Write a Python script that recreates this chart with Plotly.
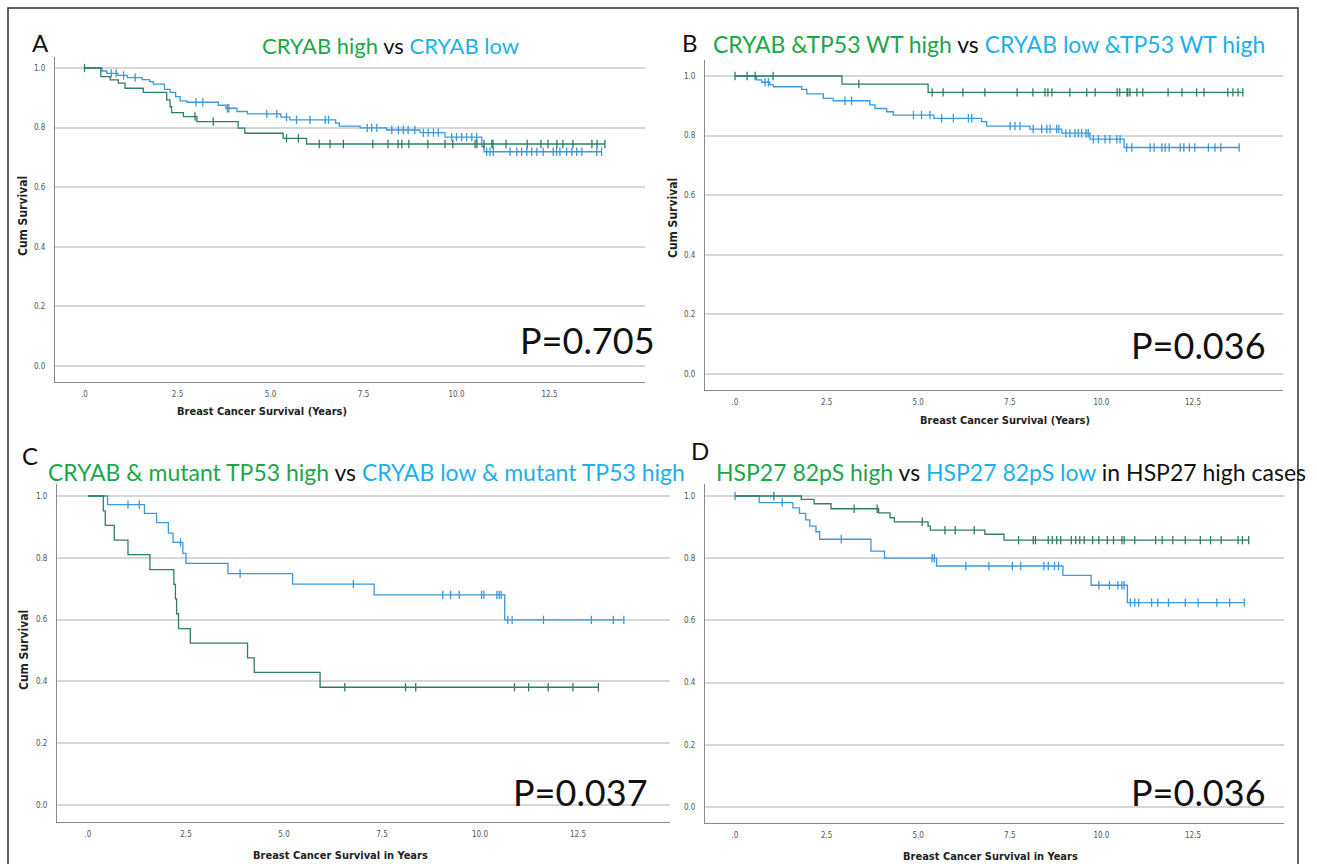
import numpy as np
import plotly.graph_objects as go

W, H = 1317, 864

# ---------------- data (years, cumulative survival) ----------------
# Panel A
A_high_t = [0.44, 0.69, 0.91, 1.09, 1.58, 2.21, 2.30, 2.34, 2.66, 3.02, 4.13, 4.31, 5.34, 5.97]
A_high_s = [0.971, 0.960, 0.949, 0.932, 0.918, 0.893, 0.870, 0.850, 0.837, 0.820, 0.798, 0.781, 0.764, 0.745]
A_high_c = [0.0, 2.97, 3.46, 5.43, 5.75, 6.31, 6.60, 6.96, 7.75, 8.16, 8.43, 8.53, 8.72, 9.23, 9.69,
            9.90, 10.50, 10.55, 10.74, 10.95, 10.98, 11.33, 11.90, 12.27, 12.46, 12.70, 12.86,
            13.13, 13.64, 13.78, 13.99]
A_low_t = [0.47, 0.60, 0.90, 1.15, 1.55, 1.75, 1.85, 2.15, 2.30, 2.45, 2.57, 2.75, 3.60, 3.80,
           4.10, 4.38, 5.28, 5.52, 6.75, 6.85, 7.41, 8.12, 9.02, 9.69, 10.68, 10.74]
A_low_s = [0.990, 0.982, 0.975, 0.968, 0.961, 0.954, 0.946, 0.928, 0.918, 0.904, 0.890, 0.885,
           0.875, 0.865, 0.854, 0.846, 0.835, 0.826, 0.815, 0.805, 0.799, 0.792, 0.783, 0.768,
           0.736, 0.719]
A_low_c = [0.72, 0.85, 1.05, 1.36, 3.00, 3.18, 3.84, 3.88, 4.90, 5.17, 5.43, 5.70, 6.06, 6.47,
           6.56, 7.60, 7.72, 7.86, 8.26, 8.44, 8.57, 8.70, 8.88, 9.11, 9.24, 9.38, 9.51, 9.87,
           10.00, 10.14, 10.27, 10.41, 10.54, 10.81, 10.90, 10.99, 11.44, 11.62, 11.75, 11.89,
           12.02, 12.16, 12.33, 12.60, 12.69, 12.78, 12.96, 13.10, 13.23, 13.37, 13.77, 13.90]

# Panel B
B_high_t = [2.92, 5.27]
B_high_s = [0.973, 0.945]
B_high_c = [0.0, 0.33, 0.55, 1.04, 3.38, 5.38, 5.68, 6.22, 6.82, 7.70, 8.13, 8.46, 8.54, 8.65,
            9.14, 9.60, 9.83, 10.43, 10.50, 10.70, 10.72, 10.78, 10.97, 11.13, 11.82, 12.20,
            12.60, 12.80, 13.45, 13.59, 13.73, 13.86]
B_low_t = [0.59, 0.73, 0.95, 1.05, 1.82, 1.96, 2.41, 2.68, 3.68, 3.82, 4.14, 4.32, 5.43, 6.73,
           6.87, 8.05, 8.92, 9.69, 10.62]
B_low_s = [0.987, 0.979, 0.970, 0.964, 0.955, 0.940, 0.925, 0.917, 0.903, 0.891, 0.880, 0.869,
           0.858, 0.847, 0.832, 0.822, 0.808, 0.788, 0.760]
B_low_c = [0.82, 0.91, 3.00, 3.18, 4.87, 5.09, 5.32, 5.64, 5.96, 6.37, 6.46, 7.51, 7.64, 7.78,
           8.14, 8.37, 8.51, 8.60, 8.78, 8.84, 9.03, 9.14, 9.28, 9.37, 9.46, 9.58, 9.64, 9.78,
           9.92, 10.10, 10.23, 10.42, 10.51, 10.69, 10.83, 11.33, 11.44, 11.65, 11.74, 11.85,
           12.15, 12.25, 12.40, 12.55, 12.92, 13.10, 13.26, 13.76]

# Panel C
C_high_t = [0.39, 0.44, 0.67, 1.02, 1.58, 2.19, 2.23, 2.26, 2.31, 2.61, 4.07, 4.24, 5.92]
C_high_s = [0.952, 0.905, 0.857, 0.810, 0.762, 0.714, 0.667, 0.619, 0.571, 0.524, 0.476, 0.429, 0.381]
C_high_c = [6.55, 8.10, 8.36, 10.88, 11.24, 11.74, 12.37, 13.02]
C_low_t = [0.50, 1.44, 1.75, 2.05, 2.17, 2.42, 2.50, 3.57, 5.22, 7.30, 10.63]
C_low_s = [0.972, 0.944, 0.914, 0.880, 0.850, 0.814, 0.782, 0.749, 0.715, 0.680, 0.599]
C_low_c = [1.02, 1.31, 2.36, 3.88, 6.77, 9.05, 9.25, 9.47, 10.04, 10.10, 10.43, 10.49, 10.54,
           10.71, 10.82, 11.62, 12.84, 13.40, 13.67]

# Panel D
D_high_t = [1.81, 2.16, 2.62, 3.92, 4.23, 4.35, 5.27, 5.33, 6.82, 7.34]
D_high_s = [0.989, 0.975, 0.959, 0.946, 0.930, 0.917, 0.903, 0.890, 0.877, 0.858]
D_high_c = [1.06, 3.25, 3.88, 5.11, 5.73, 6.01, 6.53, 7.74, 8.14, 8.20, 8.55, 8.66, 8.78, 8.89,
            9.18, 9.30, 9.41, 9.53, 9.76, 9.93, 10.16, 10.33, 10.56, 10.62, 10.91, 11.48, 11.66,
            11.95, 12.29, 12.70, 12.98, 13.27, 13.73, 13.85, 14.02]
D_low_t = [0.66, 1.58, 1.76, 1.93, 2.04, 2.21, 2.31, 3.71, 4.08, 5.50, 8.95, 9.72, 10.71]
D_low_s = [0.979, 0.962, 0.944, 0.923, 0.903, 0.885, 0.861, 0.823, 0.800, 0.775, 0.745, 0.713, 0.657]
D_low_c = [0.0, 1.29, 2.90, 5.38, 5.44, 6.30, 6.93, 7.57, 7.80, 8.43, 8.55, 8.72, 8.83, 9.93,
           10.22, 10.45, 10.56, 10.62, 10.79, 10.91, 11.02, 11.37, 11.54, 11.83, 12.29, 12.64,
           13.15, 13.50, 13.90]

y_tickvals = [0.0, 0.2, 0.4, 0.6, 0.8, 1.0]
y_ticktext = ["0.0", "0.2", "0.4", "0.6", "0.8", "1.0"]
x_tickvals = [0.0, 2.5, 5.0, 7.5, 10.0, 12.5]
x_ticktext = [".0", "2.5", "5.0", "7.5", "10.0", "12.5"]

titles = {
    "A": [("CRYAB high", "g"), (" vs ", "k"), ("CRYAB low", "b")],
    "B": [("CRYAB &TP53 WT high", "g"), (" vs ", "k"), ("CRYAB low &TP53 WT high", "b")],
    "C": [("CRYAB & mutant TP53 high", "g"), (" vs ", "k"), ("CRYAB low & mutant TP53 high", "b")],
    "D": [("HSP27 82pS high", "g"), (" vs ", "k"), ("HSP27 82pS low", "b"), (" in HSP27 high cases", "k")],
}
p_values = {"A": "P=0.705", "B": "P=0.036", "C": "P=0.037", "D": "P=0.036"}
x_titles = {"A": "Breast Cancer Survival (Years)", "B": "Breast Cancer Survival (Years)",
            "C": "Breast Cancer Survival in Years", "D": "Breast Cancer Survival in Years"}
y_title = "Cum Survival"

# ---------------- styling ----------------
GREEN_LINE = "#2f7d6a"
BLUE_LINE = "#3a98de"
GREEN_TXT = "#1ca64a"
BLUE_TXT = "#1cb0ea"
TXT_COL = {"g": GREEN_TXT, "b": BLUE_TXT, "k": "#111111"}
TITLE_FONT = "Lato, 'Open Sans', sans-serif"
SMALL_FONT = "'Liberation Sans Narrow', 'DejaVu Sans Condensed', 'Open Sans', sans-serif"


def px(x):
    return x / W


def py(y):
    return 1 - y / H


# panel geometry in pixels: (left, right, top, bottom), x0 pixel, px/year, y0 pixel(S=0), px/unit
panels = {
    "A": dict(box=(55, 645, 57, 382), x0=84.5, kx=37.2, y0=366, ky=298),
    "B": dict(box=(705, 1283, 60, 390), x0=735, kx=36.64, y0=374, ky=298),
    "C": dict(box=(57, 670, 484, 822), x0=88, kx=39.2, y0=805, ky=309),
    "D": dict(box=(705, 1284, 484, 823), x0=735, kx=36.64, y0=807, ky=311),
}

series = {
    "A": [(A_low_t, A_low_s, A_low_c, BLUE_LINE), (A_high_t, A_high_s, A_high_c, GREEN_LINE)],
    "B": [(B_low_t, B_low_s, B_low_c, BLUE_LINE), (B_high_t, B_high_s, B_high_c, GREEN_LINE)],
    "C": [(C_low_t, C_low_s, C_low_c, BLUE_LINE), (C_high_t, C_high_s, C_high_c, GREEN_LINE)],
    "D": [(D_low_t, D_low_s, D_low_c, BLUE_LINE), (D_high_t, D_high_s, D_high_c, GREEN_LINE)],
}


def km_xy(t, s, c):
    end = max(max(t), max(c))
    return [0.0] + list(t) + [end], [1.0] + list(s) + [s[-1]]


def cens_y(t, s, c):
    t = np.asarray(t)
    s = np.asarray(s)
    idx = np.searchsorted(t, np.asarray(c), side="right")
    return np.where(idx == 0, 1.0, s[np.maximum(idx - 1, 0)])


fig = go.Figure()
layout = dict(width=W, height=H, margin=dict(l=0, r=0, t=0, b=0), paper_bgcolor="white",
              plot_bgcolor="white", showlegend=False)
annotations = []

for i, key in enumerate(["A", "B", "C", "D"]):
    g = panels[key]
    L, R, T, B = g["box"]
    xmin = (L - g["x0"]) / g["kx"]
    xmax = (R - g["x0"]) / g["kx"]
    ymin = (g["y0"] - B) / g["ky"]
    ymax = (g["y0"] - T) / g["ky"]
    sfx = "" if i == 0 else str(i + 1)
    xa, ya = "x" + sfx, "y" + sfx
    layout["xaxis" + sfx] = dict(domain=[px(L), px(R)], range=[xmin, xmax], anchor=ya,
                                 showgrid=False, zeroline=False, showline=True,
                                 linecolor="#8a8a8a", linewidth=1,
                                 tickvals=x_tickvals, ticktext=x_ticktext, ticks="",
                                 ticklabelstandoff=4,
                                 tickfont=dict(family=SMALL_FONT, size=8, color="#555555"),
                                 fixedrange=True)
    layout["yaxis" + sfx] = dict(domain=[py(B), py(T)], range=[ymin, ymax], anchor=xa,
                                 showgrid=True, gridcolor="#d6d6d6", gridwidth=1.5,
                                 zeroline=False, showline=True, linecolor="#8a8a8a", linewidth=1,
                                 tickvals=y_tickvals, ticktext=y_ticktext, ticks="",
                                 ticklabelstandoff=7,
                                 tickfont=dict(family=SMALL_FONT, size=8, color="#555555"),
                                 fixedrange=True)
    for (t, s, c, col) in series[key]:
        xs, ys = km_xy(t, s, c)
        fig.add_trace(go.Scatter(x=xs, y=ys, mode="lines", line=dict(color=col, width=1.3, shape="hv"),
                                 xaxis=xa, yaxis=ya, hoverinfo="skip"))
        fig.add_trace(go.Scatter(x=c, y=cens_y(t, s, c), mode="markers",
                                 marker=dict(symbol="line-ns", size=6, line=dict(color=col, width=1.3)),
                                 xaxis=xa, yaxis=ya, hoverinfo="skip"))

# titles
title_pos = {"A": (390, 45), "B": (989, 44), "C": (366, 472), "D": (1011, 472)}
title_size = {"A": 22, "B": 23, "C": 23, "D": 23}
letter_pos = {"A": (40, 43), "B": (690, 43), "C": (30, 455), "D": (700, 451)}
for key in ["A", "B", "C", "D"]:
    txt = "".join('<span style="color:%s">%s</span>' % (TXT_COL[c], s) for s, c in titles[key])
    x, y = title_pos[key]
    annotations.append(dict(xref="paper", yref="paper", x=px(x), y=py(y), text=txt, showarrow=False,
                            xanchor="center", yanchor="middle",
                            font=dict(family=TITLE_FONT, size=title_size[key], color="#111111")))
    x, y = letter_pos[key]
    annotations.append(dict(xref="paper", yref="paper", x=px(x), y=py(y), text=key, showarrow=False,
                            xanchor="center", yanchor="middle",
                            font=dict(family=TITLE_FONT, size=24, color="#111111")))

# P values
p_pos = {"A": (657, 340), "B": (1268, 345), "C": (650, 792), "D": (1268, 792)}
for key, (x, y) in p_pos.items():
    annotations.append(dict(xref="paper", yref="paper", x=px(x), y=py(y), text=p_values[key],
                            showarrow=False, xanchor="right", yanchor="middle",
                            font=dict(family=TITLE_FONT, size=36, color="#111111")))

# axis titles
xt_pos = {"A": (262, 411), "B": (1005, 420), "C": (340, 855), "D": (990, 856)}
for key, (x, y) in xt_pos.items():
    annotations.append(dict(xref="paper", yref="paper", x=px(x), y=py(y), text="<b>%s</b>" % x_titles[key],
                            showarrow=False, xanchor="center", yanchor="middle",
                            font=dict(family=SMALL_FONT, size=11, color="#222222")))
yt_pos = {"A": (23, 216), "B": (673, 218), "C": (24, 650)}
for key, (x, y) in yt_pos.items():
    annotations.append(dict(xref="paper", yref="paper", x=px(x), y=py(y), text="<b>%s</b>" % y_title,
                            showarrow=False, xanchor="center", yanchor="middle", textangle=-90,
                            font=dict(family=SMALL_FONT, size=12, color="#222222")))

layout["annotations"] = annotations
layout["shapes"] = [dict(type="rect", xref="paper", yref="paper", x0=px(8), x1=px(1298), y0=py(880), y1=py(8),
                         line=dict(color="#333333", width=1.5), fillcolor="rgba(0,0,0,0)")]
fig.update_layout(**layout)
fig.write_html("out.html")
